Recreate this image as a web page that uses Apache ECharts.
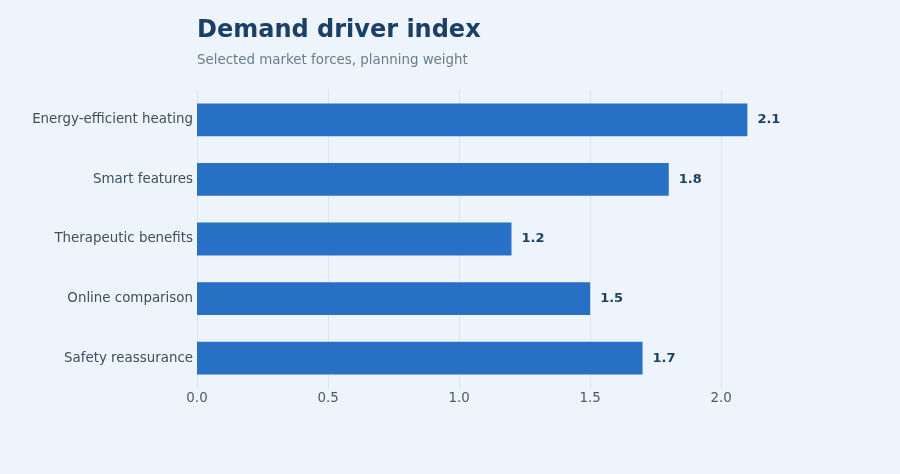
<!DOCTYPE html>
<html>
<head>
<meta charset="utf-8">
<script src="https://cdn.jsdelivr.net/npm/echarts@6/dist/echarts.min.js"></script>
<style>
	html, body { margin: 0; padding: 0; background: #eef4fb; }
	#chart { width: 900px; height: 474px; }
</style>
</head>
<body>
<div id="chart"></div>
<script>
const categories = ['Energy-efficient heating', 'Smart features', 'Therapeutic benefits', 'Online comparison', 'Safety reassurance'];
const weights = [2.1, 1.8, 1.2, 1.5, 1.7];
const tickStep = 0.5;

const chart = echarts.init(document.getElementById('chart'), null, { renderer: 'canvas' });

const option = {
	backgroundColor: '#eef4fb',
	textStyle: { fontFamily: 'DejaVu Sans' },
	title: {
		text: 'Demand driver index',
		subtext: 'Selected market forces, planning weight',
		left: 192,
		top: 14,
		itemGap: 11,
		textStyle: {
			color: '#1b3f66',
			fontSize: 24,
			fontWeight: 'bold',
			fontFamily: 'DejaVu Sans'
		},
		subtextStyle: {
			color: '#6b7b8e',
			fontSize: 13.4,
			fontFamily: 'DejaVu Sans'
		}
	},
	grid: {
		left: 197,
		right: 74,
		top: 90,
		bottom: 86,
		containLabel: false
	},
	xAxis: {
		type: 'value',
		min: 0,
		max: 2.4,
		interval: tickStep,
		axisLine: { show: false },
		axisTick: { show: false },
		axisLabel: {
			color: '#4a5a6d',
			fontSize: 13.4,
			margin: 4,
			showMaxLabel: false,
			formatter: v => v.toFixed(1)
		},
		splitLine: {
			showMaxLine: false,
			lineStyle: { color: '#dbe5f0', width: 1 }
		}
	},
	yAxis: {
		type: 'category',
		data: categories,
		inverse: true,
		axisLine: { show: false },
		axisTick: { show: false },
		axisLabel: {
			color: '#3d4e62',
			fontSize: 13.4,
			margin: 4
		}
	},
	series: [{
		type: 'bar',
		data: weights,
		barWidth: '55%',
		itemStyle: { color: '#2870c5' },
		label: {
			show: true,
			position: 'right',
			distance: 10,
			color: '#1e3d5f',
			fontSize: 13,
			fontWeight: 'bold',
			formatter: p => p.value.toFixed(1)
		}
	}]
};

chart.setOption(option);
</script>
</body>
</html>
